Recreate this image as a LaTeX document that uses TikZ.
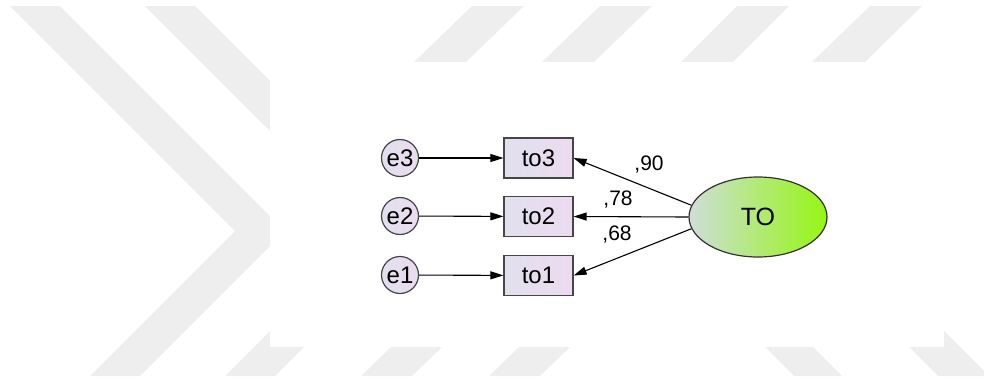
\documentclass[tikz,border=0pt]{standalone}
\usepackage{fontspec}
\setmainfont{Liberation Sans}
\usetikzlibrary{arrows.meta,shapes.geometric}
\definecolor{wm}{RGB}{238,238,238}
\definecolor{lavL}{RGB}{226,224,238}
\definecolor{lavR}{RGB}{236,219,240}
\definecolor{toL}{RGB}{206,222,216}
\definecolor{toR}{RGB}{150,246,18}
\definecolor{edge}{RGB}{70,70,70}
\tikzset{
  obsbox/.style={rectangle, draw=edge, line width=1.2pt, left color=lavL, right color=lavR,
    minimum width=69pt, minimum height=40pt, inner sep=0pt, font=\fontsize{24}{24}\selectfont},
  errnode/.style={circle, draw=edge, line width=1.2pt, left color=lavL, right color=lavR,
    minimum size=37pt, inner sep=0pt, font=\fontsize{24}{24}\selectfont},
  latent/.style={ellipse, draw=black!80, line width=1.2pt, left color=toL, right color=toR,
    minimum width=138pt, minimum height=80pt, inner sep=0pt, font=\fontsize{25}{25}\selectfont},
  path/.style={line width=1.1pt, -{Triangle[length=13pt,width=8pt]}},
  coef/.style={inner sep=0pt, font=\fontsize{21}{21}\selectfont},
  wmark/.style={fill=wm, draw=none}
}
\begin{document}
\begin{tikzpicture}[x=1pt,y=-1pt]
\useasboundingbox (0,0) rectangle (984,381);
% watermark
\fill[wmark] (10,6) -- (60,6) -- (285,231) -- (140,376) -- (90,376) -- (235,231) -- cycle;
\fill[wmark] (145,6) -- (195,6) -- (420,231) -- (275,376) -- (225,376) -- (370,231) -- cycle;
\fill[wmark] (472,6) -- (524,6) -- (466,62) -- (414,62) -- cycle;
\fill[wmark] (600,6) -- (652,6) -- (594,62) -- (542,62) -- cycle;
\fill[wmark] (737,6) -- (789,6) -- (733,62) -- (681,62) -- cycle;
\fill[wmark] (870,6) -- (922,6) -- (865,62) -- (812,62) -- cycle;
\fill[wmark] (391,347) -- (442,347) -- (412,376) -- (361,376) -- cycle;
\fill[wmark] (519,347) -- (570,347) -- (540,376) -- (489,376) -- cycle;
\fill[wmark] (765,347) -- (813,347) -- (842,376) -- (794,376) -- cycle;
\fill[wmark] (880,318) -- (931,318) -- (989,376) -- (938,376) -- cycle;
\fill[white] (270,62) rectangle (944,347);
% nodes
\node[errnode] (e3) at (400,158) {e3};
\node[errnode] (e2) at (400,216) {e2};
\node[errnode] (e1) at (400,275) {e1};
\node[obsbox] (to3) at (538.5,158) {to3};
\node[obsbox] (to2) at (538.5,216.5) {to2};
\node[obsbox] (to1) at (538.5,275.5) {to1};
\node[latent] (TO) at (758,217) {TO};
% connectors
\draw[path] (e3) -- (to3);
\draw[path] (e2) -- (to2);
\draw[path] (e1) -- (to1);
\draw[path] (TO.170) -- (to3.east);
\draw[path] (TO.west) -- (to2.east);
\draw[path] (TO.190) -- (to1.east);
% coefficients
\node[coef] (c3) at (649,165) {,90};
\node[coef] (c2) at (618,200) {,78};
\node[coef] (c1) at (617,235) {,68};
\end{tikzpicture}
\end{document}
